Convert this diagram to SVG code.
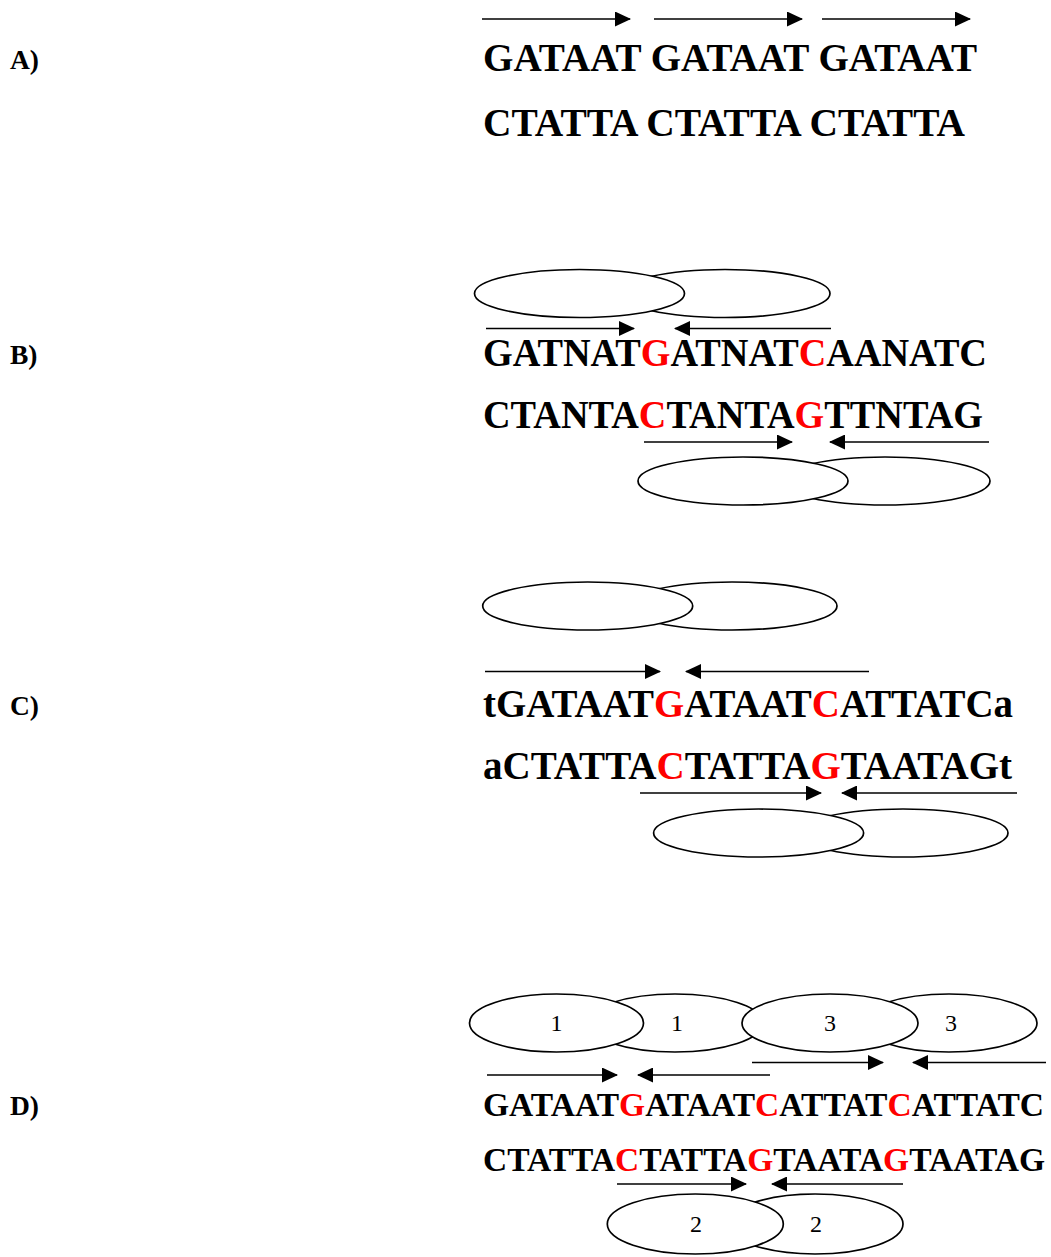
<svg xmlns="http://www.w3.org/2000/svg" width="1051" height="1257" viewBox="0 0 1051 1257">
<style>
.lbl{font-family:"Liberation Serif","Times New Roman",serif;font-weight:bold;font-size:27.5px;fill:#000}
.seq{font-family:"Liberation Serif","Times New Roman",serif;font-weight:bold;font-size:39px;fill:#000}
.seqd{font-family:"Liberation Serif","Times New Roman",serif;font-weight:bold;font-size:33.5px;fill:#000}
.r{fill:#FF0000}
.ell{fill:#fff;stroke:#000;stroke-width:1.7}
.num{font-family:"Liberation Serif","Times New Roman",serif;font-size:24px;fill:#000;text-anchor:middle}
.arr{stroke:#000;stroke-width:1.7;fill:none;marker-end:url(#ah)}
</style>
<defs>
<marker id="ah" markerWidth="16" markerHeight="15" refX="15" refY="7.5" orient="auto" markerUnits="userSpaceOnUse">
<path d="M0,0 L16,7.5 L0,15 z" fill="#000"/>
</marker>
</defs>
<rect width="1051" height="1257" fill="#fff"/>

<g id="labels">
<text class="lbl" x="10" y="69">A)</text>
<text class="lbl" x="10" y="364">B)</text>
<text class="lbl" x="10" y="715">C)</text>
<text class="lbl" x="10" y="1115">D)</text>
</g>

<!-- Panel A -->
<g id="A-top"><text class="seq" x="483" y="71" textLength="494" lengthAdjust="spacingAndGlyphs">GATAAT GATAAT GATAAT</text></g>
<g id="A-bottom"><text class="seq" x="483" y="136" textLength="482" lengthAdjust="spacingAndGlyphs">CTATTA CTATTA CTATTA</text></g>

<!-- Panel B -->
<g id="B-ell-top">
<ellipse class="ell" cx="725" cy="293.5" rx="105" ry="24"/>
<ellipse class="ell" cx="579.5" cy="293.5" rx="105" ry="24"/>
</g>
<g id="B-top"><text class="seq" x="483" y="366" textLength="504" lengthAdjust="spacingAndGlyphs">GATNAT<tspan class="r">G</tspan>ATNAT<tspan class="r">C</tspan>AANATC</text></g>
<g id="B-bottom"><text class="seq" x="483" y="428" textLength="500" lengthAdjust="spacingAndGlyphs">CTANTA<tspan class="r">C</tspan>TANTA<tspan class="r">G</tspan>TTNTAG</text></g>
<g id="B-ell-bottom">
<ellipse class="ell" cx="885" cy="481" rx="105" ry="24"/>
<ellipse class="ell" cx="743" cy="481" rx="105" ry="24"/>
</g>

<!-- Panel C -->
<g id="C-ell-top">
<ellipse class="ell" cx="732" cy="606" rx="105" ry="24"/>
<ellipse class="ell" cx="587.7" cy="606" rx="105" ry="24"/>
</g>
<g id="C-top"><text class="seq" x="483" y="717" textLength="530" lengthAdjust="spacingAndGlyphs">tGATAAT<tspan class="r">G</tspan>ATAAT<tspan class="r">C</tspan>ATTATCa</text></g>
<g id="C-bottom"><text class="seq" x="483" y="779" textLength="529" lengthAdjust="spacingAndGlyphs">aCTATTA<tspan class="r">C</tspan>TATTA<tspan class="r">G</tspan>TAATAGt</text></g>
<g id="C-ell-bottom">
<ellipse class="ell" cx="903" cy="833" rx="105" ry="24"/>
<ellipse class="ell" cx="758.6" cy="833" rx="105" ry="24"/>
</g>

<!-- Panel D -->
<g id="D-ell-top">
<g id="D-ell-1b"><ellipse class="ell" cx="675" cy="1023" rx="88" ry="29"/><text class="num" x="677" y="1031">1</text></g>
<g id="D-ell-3b"><ellipse class="ell" cx="949" cy="1023" rx="88" ry="29"/><text class="num" x="951" y="1031">3</text></g>
<g id="D-ell-1a"><ellipse class="ell" cx="556.5" cy="1023" rx="87" ry="29"/><text class="num" x="556.5" y="1031">1</text></g>
<g id="D-ell-3a"><ellipse class="ell" cx="830" cy="1023" rx="88" ry="29"/><text class="num" x="830" y="1031">3</text></g>
</g>
<g id="D-top"><text class="seqd" x="483" y="1116" textLength="561" lengthAdjust="spacingAndGlyphs">GATAAT<tspan class="r">G</tspan>ATAAT<tspan class="r">C</tspan>ATTAT<tspan class="r">C</tspan>ATTATC</text></g>
<g id="D-bottom"><text class="seqd" x="483" y="1171" textLength="562" lengthAdjust="spacingAndGlyphs">CTATTA<tspan class="r">C</tspan>TATTA<tspan class="r">G</tspan>TAATA<tspan class="r">G</tspan>TAATAG</text></g>
<g id="D-ell-bottom">
<g id="D-ell-2b"><ellipse class="ell" cx="815" cy="1224" rx="88" ry="30"/><text class="num" x="816" y="1232">2</text></g>
<g id="D-ell-2a"><ellipse class="ell" cx="695.3" cy="1224" rx="88" ry="30"/><text class="num" x="696" y="1232">2</text></g>
</g>

<g id="connectors">
<line class="arr" x1="482" y1="19" x2="630" y2="19"/>
<line class="arr" x1="654" y1="19" x2="802" y2="19"/>
<line class="arr" x1="822" y1="19" x2="970" y2="19"/>

<line class="arr" x1="486" y1="328.5" x2="634" y2="328.5"/>
<line class="arr" x1="831" y1="328.5" x2="675" y2="328.5"/>
<line class="arr" x1="644" y1="442" x2="792" y2="442"/>
<line class="arr" x1="989" y1="442" x2="830" y2="442"/>

<line class="arr" x1="485" y1="671.5" x2="660" y2="671.5"/>
<line class="arr" x1="869" y1="671.5" x2="686" y2="671.5"/>
<line class="arr" x1="640" y1="793" x2="821" y2="793"/>
<line class="arr" x1="1017" y1="793" x2="842" y2="793"/>

<line class="arr" x1="752" y1="1062.5" x2="883" y2="1062.5"/>
<line class="arr" x1="1046" y1="1062.5" x2="913" y2="1062.5"/>
<line class="arr" x1="487" y1="1075" x2="617" y2="1075"/>
<line class="arr" x1="770" y1="1075" x2="638" y2="1075"/>
<line class="arr" x1="617" y1="1184" x2="746" y2="1184"/>
<line class="arr" x1="903" y1="1184" x2="772" y2="1184"/>
</g>
</svg>
